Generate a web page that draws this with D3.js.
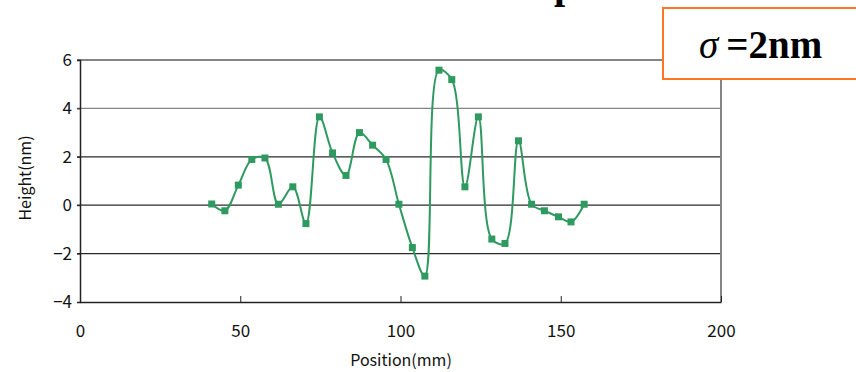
<!DOCTYPE html>
<html>
<head>
<meta charset="utf-8">
<script src="https://cdn.jsdelivr.net/npm/d3@7"></script>
<style>
  body { margin: 0; background: #fff; }
  svg { display: block; }
</style>
</head>
<body>
<svg id="chart" width="856" height="372"></svg>
<script>
// position along the sample (mm)
var positions = [41.1, 45.2, 49.4, 53.6, 57.7, 61.9, 66.4, 70.5, 74.7, 78.8,
                 83.0, 87.2, 91.3, 95.5, 99.5, 103.7, 107.6, 112.0, 116.0, 120.1,
                 124.3, 128.5, 132.6, 136.8, 140.9, 144.9, 149.3, 153.2, 157.3];
// measured height (nm)
var heights = [0.05, -0.23, 0.83, 1.89, 1.95, 0.04, 0.76, -0.76, 3.65, 2.16,
               1.23, 3.0, 2.48, 1.89, 0.04, -1.75, -2.93, 5.58, 5.19, 0.76,
               3.65, -1.40, -1.58, 2.66, 0.04, -0.23, -0.48, -0.69, 0.04];
var xTicks = [0, 50, 100, 150, 200];
var yTicks = [-4, -2, 0, 2, 4, 6];

var svg = d3.select("#chart");
var plotLeft = 80, plotRight = 721, plotTop = 60, plotBottom = 302;
var green = "#2f9a60";
var labelFont = "'Noto Sans CJK JP', 'DejaVu Sans', sans-serif";

var x = d3.scaleLinear().domain([0, 200]).range([plotLeft, plotRight]);
var y = d3.scaleLinear().domain([-4, 6]).range([plotBottom, plotTop]);

// title, almost entirely cut off by the top edge
var title = svg.append("text")
    .attr("y", -2)
    .attr("font-family", "'Liberation Serif', serif")
    .attr("font-weight", "bold")
    .attr("font-size", 40)
    .attr("fill", "#000")
    .text("Simulated profile");
var pIdx = title.text().indexOf("p");
var pOff = title.node().getSubStringLength(0, pIdx);
title.attr("x", 554 - pOff);

// gridlines
svg.append("g").selectAll("line")
    .data(yTicks.filter(function(d) { return d > -4; }))
  .enter()
    .append("line")
    .attr("x1", plotLeft - 3)
    .attr("x2", plotRight)
    .attr("y1", function(d) { return y(d); })
    .attr("y2", function(d) { return y(d); })
    .attr("stroke", function(d) { return d >= 4 ? "#858585" : "#2a2a2a"; })
    .attr("stroke-width", function(d) { return d === 6 ? 2 : 1.2; });

// right border
svg.append("line")
    .attr("x1", plotRight).attr("x2", plotRight)
    .attr("y1", plotTop).attr("y2", plotBottom)
    .attr("stroke", "#858585").attr("stroke-width", 2);

// y axis
var yAxis = d3.axisLeft(y).tickValues(yTicks).tickSize(3)
    .tickFormat(function(d) { return d < 0 ? "\u2212" + Math.abs(d) : d; });
var gy = svg.append("g")
    .attr("transform", "translate(" + plotLeft + ",0)")
    .call(yAxis);
gy.select(".domain").attr("stroke", "#222").attr("stroke-width", 1.5);
gy.selectAll(".tick line").attr("stroke", "#222");
gy.selectAll(".tick text")
    .attr("x", -8)
    .attr("font-family", labelFont)
    .attr("font-size", 17)
    .attr("fill", "#111");

// x axis with inward ticks
var xAxis = d3.axisBottom(x).tickValues(xTicks).tickSize(-6).tickSizeOuter(0);
var gx = svg.append("g")
    .attr("transform", "translate(0," + plotBottom + ")")
    .call(xAxis);
gx.select(".domain").attr("stroke", "#222").attr("stroke-width", 1.5);
gx.selectAll(".tick line").attr("stroke", "#222");
gx.selectAll(".tick text")
    .attr("y", 23)
    .attr("font-family", labelFont)
    .attr("font-size", 17)
    .attr("fill", "#111");

// axis titles
svg.append("text")
    .attr("x", 401)
    .attr("y", 366)
    .attr("text-anchor", "middle")
    .attr("font-family", labelFont)
    .attr("font-size", 16)
    .attr("fill", "#111")
    .text("Position(mm)");
svg.append("text")
    .attr("transform", "translate(31,178) rotate(-90)")
    .attr("text-anchor", "middle")
    .attr("font-family", labelFont)
    .attr("font-size", 16)
    .attr("fill", "#111")
    .text("Height(nm)");

// smoothed profile line
var pts = positions.map(function(p, i) { return [p, heights[i]]; });
var line = d3.line()
    .x(function(d) { return x(d[0]); })
    .y(function(d) { return y(d[1]); })
    .curve(d3.curveCatmullRom.alpha(0.5));
svg.append("path")
    .datum(pts)
    .attr("d", line)
    .attr("fill", "none")
    .attr("stroke", green)
    .attr("stroke-width", 2);

// square markers
var m = 7;
svg.append("g").selectAll("rect")
    .data(pts)
  .enter()
    .append("rect")
    .attr("x", function(d) { return x(d[0]) - m / 2; })
    .attr("y", function(d) { return y(d[1]) - m / 2; })
    .attr("width", m)
    .attr("height", m)
    .attr("fill", green);

// sigma annotation box
svg.append("rect")
    .attr("x", 663).attr("y", 8)
    .attr("width", 210).attr("height", 71)
    .attr("fill", "#fff")
    .attr("stroke", "#ff7425")
    .attr("stroke-width", 2);
var sig = svg.append("text")
    .attr("x", 699)
    .attr("y", 58)
    .attr("font-family", "'Liberation Serif', serif")
    .attr("font-weight", "bold")
    .attr("font-size", 39)
    .attr("fill", "#000");
sig.append("tspan").attr("font-style", "italic").attr("font-weight", "normal").text("\u03c3");
sig.append("tspan").attr("dx", 8).text("=2nm");
</script>
</body>
</html>
